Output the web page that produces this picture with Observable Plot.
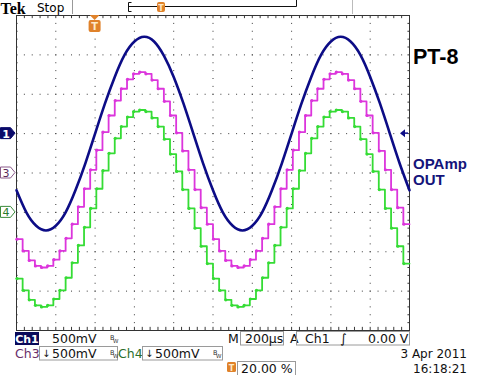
<!DOCTYPE html>
<html><head><meta charset="utf-8">
<script src="https://cdn.jsdelivr.net/npm/d3@7"></script>
<script src="https://cdn.jsdelivr.net/npm/@observablehq/plot@0.6"></script>
<style>body{margin:0;background:#fff}</style>
</head><body><div id="chart"></div>
<script>
// ---- Data ----
// Time in µs (200 µs/div, trigger at 20 %), voltages in V (500 mV/div)
const timeBlue = [-400,-350,-300,-250,-200,-150,-100,-50,0,50,100,150,200,250,300,350,400,450,500,550,600,650,700,750,800,850,900,950,1000,1050,1100,1150,1200,1250,1300,1350,1400,1450,1500,1550,1600];
const ch1Volts = [-0.72,-1.00,-1.17,-1.23,-1.17,-1.00,-0.72,-0.38,0.00,0.38,0.72,1.00,1.17,1.23,1.17,0.99,0.72,0.38,0.00,-0.38,-0.72,-1.00,-1.17,-1.23,-1.17,-1.00,-0.72,-0.38,0.00,0.38,0.72,1.00,1.17,1.23,1.17,1.00,0.72,0.38,0.00,-0.38,-0.72];

const stepTimes = [-400,-368.75,-337.5,-306.25,-275,-243.75,-212.5,-181.25,-150,-118.75,-87.5,-56.25,-25,6.25,37.5,68.75,100,131.25,162.5,193.75,225,256.25,287.5,318.75,350,381.25,412.5,443.75,475,506.25,537.5,568.75,600,631.25,662.5,693.75,725,756.25,787.5,818.75,850,881.25,912.5,943.75,975,1006.25,1037.5,1068.75,1100,1131.25,1162.5,1193.75,1225,1256.25,1287.5,1318.75,1350,1381.25,1412.5,1443.75,1475,1506.25,1537.5,1568.75,1600];
const ch3Volts = [-0.84,-0.99,-1.11,-1.18,-1.20,-1.18,-1.10,-0.99,-0.83,-0.65,-0.43,-0.20,0.04,0.29,0.52,0.73,0.92,1.07,1.19,1.26,1.28,1.26,1.18,1.07,0.91,0.73,0.51,0.28,0.04,-0.21,-0.44,-0.65,
                  -0.84,-0.99,-1.11,-1.18,-1.20,-1.18,-1.10,-0.99,-0.83,-0.65,-0.43,-0.20,0.04,0.29,0.52,0.73,0.92,1.07,1.19,1.26,1.28,1.26,1.18,1.07,0.91,0.73,0.51,0.28,0.04,-0.21,-0.44,-0.65,-0.65];
const ch4Volts = [-0.84,-0.99,-1.11,-1.18,-1.20,-1.18,-1.10,-0.99,-0.83,-0.64,-0.42,-0.19,0.05,0.30,0.53,0.75,0.94,1.09,1.21,1.28,1.30,1.28,1.20,1.09,0.93,0.74,0.52,0.29,0.05,-0.20,-0.43,-0.65,
                  -0.84,-0.99,-1.11,-1.18,-1.20,-1.18,-1.10,-0.99,-0.83,-0.64,-0.42,-0.19,0.05,0.30,0.53,0.75,0.94,1.09,1.21,1.28,1.30,1.28,1.20,1.09,0.93,0.74,0.52,0.29,0.05,-0.20,-0.43,-0.65,-0.65];

// channel vertical positions (divisions from screen centre) and scale
const channels = ["Ch1","Ch3","Ch4"];
const chanPosDiv = [1,0,-1];
const voltsPerDiv = 0.5;
const gridX = [-400,-200,0,200,400,600,800,1000,1200,1400,1600];
const gridY = [-4,-3,-2,-1,0,1,2,3,4];

// status readouts
const titleText = "PT-8";
const noteLines = ["OPAmp","OUT"];
const dateText = "3 Apr 2011", timeText = "16:18:21";

const blue = timeBlue.map((t,i)=>({t, y: chanPosDiv[0] + ch1Volts[i]/voltsPerDiv}));
const mag  = stepTimes.map((t,i)=>({t, y: chanPosDiv[1] + ch3Volts[i]/voltsPerDiv}));
const grn  = stepTimes.map((t,i)=>({t, y: chanPosDiv[2] + ch4Volts[i]/voltsPerDiv}));
const minorX = d3.range(-400, 1601, 40);
const minorY = d3.range(-4, 4.01, 0.2);

const BLUE="#0c0c86", MAG="#dc35dc", GRN="#35dc35", GRID="#3a3a3a";

const plot = Plot.plot({
  width:500, height:375,
  marginLeft:16, marginRight:91, marginTop:15, marginBottom:45,
  x:{domain:[-400,1600], axis:null},
  y:{domain:[-4,4], axis:null},
  style:{background:"white", overflow:"visible"},
  marks:[
    Plot.ruleX(gridX.slice(1,-1), {stroke:GRID, strokeWidth:1, strokeDasharray:"1,6.875"}),
    Plot.ruleY(gridY.slice(1,-1), {stroke:GRID, strokeWidth:1, strokeDasharray:"1,6.86"}),
    Plot.ruleX(minorX, {y1:-4, y2:-3.92, stroke:GRID}),
    Plot.ruleX(minorX, {y1:4, y2:3.92, stroke:GRID}),
    Plot.ruleY(minorY, {x1:-400, x2:-392, stroke:GRID}),
    Plot.ruleY(minorY, {x1:1592, x2:1600, stroke:GRID}),
    Plot.frame({stroke:"#333"}),
    Plot.line(grn, {x:"t", y:"y", stroke:GRN, strokeWidth:1.8, curve:"step-after"}),
    Plot.dot(grn.slice(0,-1), {x:"t", y:"y", r:1.6, fill:GRN, dx:0.5}),
    Plot.line(mag, {x:"t", y:"y", stroke:MAG, strokeWidth:1.8, curve:"step-after"}),
    Plot.dot(mag.slice(0,-1), {x:"t", y:"y", r:1.6, fill:MAG, dx:0.5}),
    Plot.line(blue, {x:"t", y:"y", stroke:BLUE, strokeWidth:2.6, curve:"natural"})
  ]
});
document.getElementById("chart").appendChild(plot);

const svg = d3.select(plot);
const xs = plot.scale("x"), ys = plot.scale("y");
const FONT = "DejaVu Sans, sans-serif";
function txt(x,y,s,opts={}){
  return svg.append("text").attr("x",x).attr("y",y).text(s)
    .attr("font-family",opts.family||FONT).attr("font-size",opts.size||12)
    .attr("font-weight",opts.weight||"normal").attr("fill",opts.fill||"#111")
    .attr("text-anchor",opts.anchor||"start");
}
function box(x,y,w,h,stroke="#9a9a9a",fill="none"){
  return svg.append("rect").attr("x",x).attr("y",y).attr("width",w).attr("height",h)
    .attr("fill",fill).attr("stroke",stroke).attr("stroke-width",1);
}
const ORANGE="#e0822a";

// ---- top status bar ----
txt(0.5,13.5,"Tek",{family:"Liberation Serif, serif",size:16,weight:"bold",fill:"#000"});
txt(37,12,"Stop",{size:12,fill:"#000"});
svg.append("line").attr("x1",72.5).attr("x2",72.5).attr("y1",0).attr("y2",14).attr("stroke","#999");
svg.append("line").attr("x1",352.5).attr("x2",352.5).attr("y1",0).attr("y2",14).attr("stroke","#bbb");
svg.append("path").attr("d","M131.5,2.5 H128.5 V11.5 H131.5 M128.5,6.5 H296.5 V0").attr("fill","none").attr("stroke","#111");
box(157,2,8,10,"none",ORANGE).attr("rx",2);
txt(161,10.5,"T",{size:8,weight:"bold",fill:"#fde9c8",anchor:"middle"});

// trigger position marker
const tx = xs.apply(0);
svg.append("path").attr("d",`M${tx-5},15 L${tx+5},15 L${tx},20 Z`).attr("fill",ORANGE);
box(tx-6,20,12,12,"none",ORANGE).attr("rx",2);
txt(tx,30,"T",{size:10,weight:"bold",fill:"#fde9c8",anchor:"middle"});

// trigger level arrow on right
const tl = ys.apply(chanPosDiv[0]);
svg.append("path").attr("d",`M400,${tl} L405,${tl-4} L405,${tl+4} Z`).attr("fill",BLUE);
svg.append("line").attr("x1",404).attr("x2",408).attr("y1",tl).attr("y2",tl).attr("stroke",BLUE).attr("stroke-width",1.5);

// channel markers on left
const markerStyle = [
  {fill:"#0a0a6a", stroke:"#0a0a6a", text:"#fff", label:"1"},
  {fill:"#fff", stroke:"#8a5a8a", text:"#5a2a5a", label:"3"},
  {fill:"#fff", stroke:"#3a8a3a", text:"#2a7a2a", label:"4"}
];
chanPosDiv.forEach((p,i)=>{
  const c = ys.apply(p), m = markerStyle[i];
  svg.append("path").attr("d",`M0.5,${c-5.5} H10.5 L15,${c} L10.5,${c+5.5} H0.5 Z`)
    .attr("fill",m.fill).attr("stroke",m.stroke);
  txt(6,c+4.5,m.label,{size:11,weight:i===0?"bold":"normal",fill:m.text,anchor:"middle"});
});

// right-side annotations
txt(413,64,titleText,{family:"Liberation Sans, Arial, sans-serif",size:21.5,weight:"bold",fill:"#000"});
noteLines.forEach((s,i)=>txt(413,169+16*i,s,{family:"Liberation Sans, Arial, sans-serif",size:15,weight:"bold",fill:"#14147a"}));

// ---- bottom readouts ----
const F = 12.5;
box(15,332,24,13,"none","#0a0a5a");
txt(27,343,"Ch1",{size:11,weight:"bold",fill:"#fff",anchor:"middle"});
txt(52,343,"500mV",{size:F});
function bw(x,y){ txt(x,y-3,"B",{size:6.5,fill:"#333"}); txt(x+3,y,"W",{size:5.5,fill:"#333"}); }
bw(110,343);
txt(228,343,"M",{size:F});
box(240.5,331.5,43,13.5);
txt(245,343,"200µs",{size:F});
txt(290,343,"A",{size:F});
box(296.5,331.5,113,13.5);
txt(305,343,"Ch1",{size:F});
txt(340,343,"\u222B",{size:F});
txt(368,343,"0.00 V",{size:F});

txt(15,358,"Ch3",{size:F,fill:"#6a2f6a"});
box(39.5,346.5,78,13.5);
txt(42,357,"\u2193",{size:10});
txt(52,358,"500mV",{size:F});
bw(110,358);
txt(118,358,"Ch4",{size:F,fill:"#2a6e2a"});
box(142.5,346.5,80,13.5);
txt(145,357,"\u2193",{size:10});
txt(155,358,"500mV",{size:F});
bw(213,358);
txt(467,358,dateText,{size:12,anchor:"end"});

box(227,362,9,10,"none",ORANGE).attr("rx",1.5);
txt(231.5,370.5,"T",{size:8,weight:"bold",fill:"#fde9c8",anchor:"middle"});
box(237.5,361.5,58,14);
txt(241,373,"20.00 %",{size:F});
txt(467,373,timeText,{size:12,anchor:"end"});
</script>
</body></html>
